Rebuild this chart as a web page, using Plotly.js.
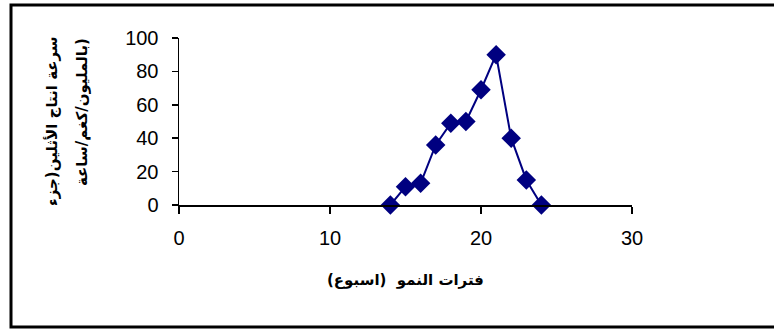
<!DOCTYPE html>
<html>
<head>
<meta charset="utf-8">
<script src="https://cdn.plot.ly/plotly-3.0.1.min.js"></script>
<style>html,body{margin:0;padding:0;background:#fff;}#chart{width:774px;height:329px;}</style>
</head>
<body>
<div id="chart"></div>
<script>
// Data
const weeks = [14, 15, 16, 17, 18, 19, 20, 21, 22, 23, 24];
const ethyleneRate = [0, 11, 13, 36, 49, 50, 69, 90, 40, 15, 0];
const xTickValues = [0, 10, 20, 30];
const yTickValues = [0, 20, 40, 60, 80, 100];
const xTitle = "فترات النمو  (اسبوع)";
const yTitleLines = ["سرعة انتاج الأثلين(جزء", "بالمليون/كغم/ساعة)"];

const font = "Liberation Sans, Arial, DejaVu Sans, sans-serif";
const arFont = "DejaVu Sans, sans-serif";

const trace = {
  x: weeks,
  y: ethyleneRate,
  type: "scatter",
  mode: "lines+markers",
  line: {color: "#000080", width: 2},
  marker: {symbol: "diamond", size: 15, color: "#000080"},
  cliponaxis: false,
  hoverinfo: "skip"
};

const layout = {
  width: 774,
  height: 329,
  margin: {l: 179, r: 142, t: 38, b: 124},
  paper_bgcolor: "#ffffff",
  plot_bgcolor: "#ffffff",
  showlegend: false,
  font: {family: font, color: "#000000", size: 20},
  xaxis: {
    range: [0, 30],
    tickvals: xTickValues,
    ticks: "outside",
    ticklen: 7,
    tickwidth: 1.5,
    tickcolor: "#000",
    showline: true,
    linecolor: "#000",
    linewidth: 1.5,
    showgrid: false,
    zeroline: false,
    ticklabelstandoff: 7,
    tickfont: {size: 20, family: font}
  },
  yaxis: {
    range: [0, 100],
    tickvals: yTickValues,
    ticks: "outside",
    ticklen: 6,
    tickwidth: 1.5,
    tickcolor: "#000",
    showline: true,
    linecolor: "#000",
    linewidth: 1.5,
    showgrid: false,
    zeroline: false,
    ticklabelstandoff: 9,
    tickfont: {size: 20, family: font}
  },
  annotations: [
    {
      xref: "paper", yref: "paper",
      x: (405 - 179) / 453, y: (205 - 280) / 167,
      text: "<b>" + xTitle + "</b>",
      showarrow: false,
      font: {size: 15, family: arFont, color: "#000"},
      xanchor: "center", yanchor: "middle"
    },
    {
      xref: "paper", yref: "paper",
      x: (52 - 179) / 453, y: (205 - 121) / 167,
      text: "<b>" + yTitleLines[0] + "</b>",
      textangle: -90,
      showarrow: false,
      font: {size: 15, family: arFont, color: "#000"},
      xanchor: "center", yanchor: "middle"
    },
    {
      xref: "paper", yref: "paper",
      x: (82 - 179) / 453, y: (205 - 112) / 167,
      text: "<b>" + yTitleLines[1] + "</b>",
      textangle: -90,
      showarrow: false,
      font: {size: 15, family: arFont, color: "#000"},
      xanchor: "center", yanchor: "middle"
    }
  ],
  shapes: [
    {
      type: "rect", xref: "paper", yref: "paper",
      x0: (11 - 179) / 453, x1: (790 - 179) / 453,
      y0: (205 - 327) / 167, y1: (205 - 5) / 167,
      line: {color: "#000", width: 3},
      fillcolor: "rgba(0,0,0,0)",
      layer: "below"
    }
  ]
};

Plotly.newPlot("chart", [trace], layout, {displayModeBar: false, staticPlot: true});
</script>
</body>
</html>
